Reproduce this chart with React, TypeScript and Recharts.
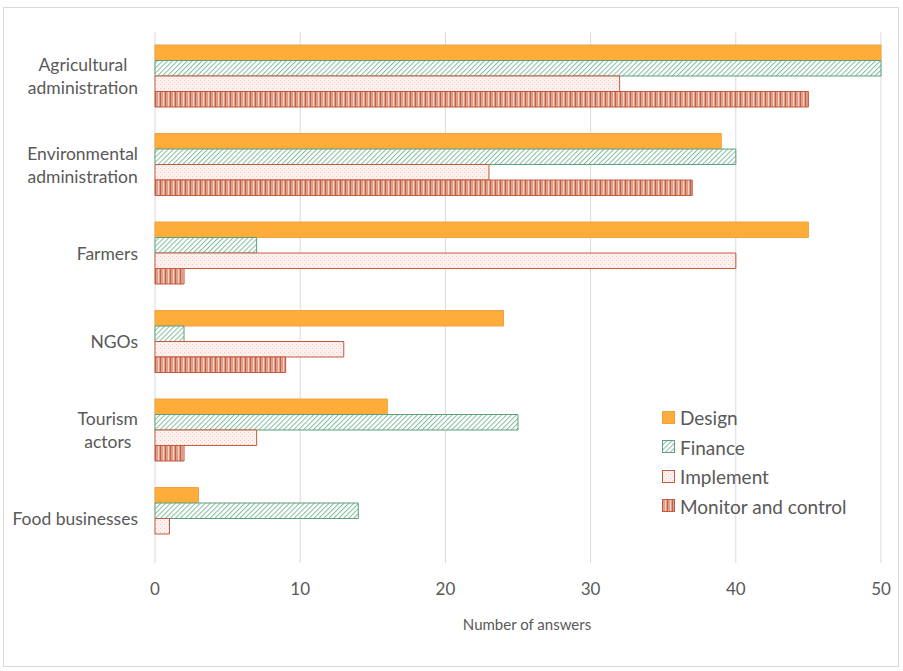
import React from 'react';
import { BarChart, Bar, XAxis, YAxis, CartesianGrid } from 'recharts';

const categories = [
  'Agricultural\nadministration',
  'Environmental\nadministration',
  'Farmers',
  'NGOs',
  'Tourism\nactors',
  'Food businesses',
];
const design = [50, 39, 45, 24, 16, 3];
const finance = [50, 40, 7, 2, 25, 14];
const implement = [32, 23, 40, 13, 7, 1];
const monitor = [45, 37, 2, 9, 2, 0];
const xTicks = [0, 10, 20, 30, 40, 50];

const seriesDefs = [
  { key: 'design', name: 'Design', fill: '#FFAD3A', stroke: '#EDA140' },
  { key: 'finance', name: 'Finance', fill: 'url(#patFinance)', stroke: '#5E9F7C' },
  { key: 'implement', name: 'Implement', fill: 'url(#patImplement)', stroke: '#C35A3E' },
  { key: 'monitor', name: 'Monitor and control', fill: 'url(#patMonitor)', stroke: '#C35A3E' },
];

const data = categories.map((c, i) => ({
  name: c,
  design: design[i],
  finance: finance[i],
  implement: implement[i],
  monitor: monitor[i],
}));

const FONT = 'Lato, "Open Sans", sans-serif';
const TEXT = '#595959';

let measureCtx: CanvasRenderingContext2D | null = null;
function measure(text: string, font: string): number {
  if (!measureCtx) {
    const c = document.createElement('canvas');
    measureCtx = c.getContext('2d');
  }
  if (!measureCtx) return text.length * 8;
  measureCtx.font = font;
  return measureCtx.measureText(text).width;
}

const YTick = (props: any) => {
  const { y, payload } = props;
  const lines: string[] = String(payload.value).split('\n');
  const fontSize = 17.5;
  const widths = lines.map((l) => measure(l, `${fontSize}px Lato`));
  const maxW = Math.max(...widths);
  const rightEdge = 138;
  const cx = rightEdge - maxW / 2;
  const lh = 23;
  const startY = y - ((lines.length - 1) * lh) / 2;
  return (
    <g>
      {lines.map((l, i) => (
        <text
          key={i}
          x={cx}
          y={startY + i * lh}
          textAnchor="middle"
          dominantBaseline="central"
          fontSize={fontSize}
          fontFamily={FONT}
          fill={TEXT}
        >
          {l}
        </text>
      ))}
    </g>
  );
};

const LegendBox = () => (
  <div
    style={{
      position: 'absolute',
      left: 662,
      top: 403,
      width: 236,
      fontFamily: FONT,
      fontSize: 19,
      color: TEXT,
    }}
  >
    {seriesDefs.map((s) => (
      <div key={s.key} style={{ display: 'flex', alignItems: 'center', height: 29.5, whiteSpace: 'nowrap' }}>
        <svg width={14} height={14} style={{ marginRight: 4 }}>
          <rect x={0.5} y={0.5} width={12} height={12} fill={s.fill} stroke={s.stroke} strokeWidth={1} />
        </svg>
        <span>{s.name}</span>
      </div>
    ))}
  </div>
);

export default function App() {
  return (
    <div style={{ position: 'absolute', left: 0, top: 0, width: 903, height: 671, background: '#fff' }}>
      <div
        style={{
          position: 'absolute',
          left: 3,
          top: 7,
          width: 896,
          height: 660,
          border: '1px solid #d9d9d9',
          boxSizing: 'border-box',
        }}
      />
      <BarChart
        width={903}
        height={671}
        data={data}
        layout="vertical"
        margin={{ top: 32, right: 22, bottom: 0, left: 0 }}
        barGap={0}
        barSize={15.5}
        style={{ position: 'absolute', left: 0, top: 0 }}
      >
        <defs>
          <pattern id="patFinance" patternUnits="userSpaceOnUse" width={3.5} height={3.5} patternTransform="rotate(45)">
            <rect width={3.5} height={3.5} fill="#ffffff" />
            <line x1={0} y1={0} x2={0} y2={3.5} stroke="#80BC9C" strokeWidth={2} />
          </pattern>
          <pattern id="patImplement" patternUnits="userSpaceOnUse" width={4} height={4}>
            <rect width={4} height={4} fill="#FCF1EE" />
            <rect x={0} y={0} width={1} height={1} fill="#EFC9BF" />
            <rect x={2} y={2} width={1} height={1} fill="#F3D6CE" />
          </pattern>
          <pattern id="patMonitor" patternUnits="userSpaceOnUse" width={5} height={5}>
            <rect width={5} height={5} fill="#DE9E89" />
            <rect x={0} y={0} width={1} height={5} fill="#C4603F" />
            <rect x={3} y={0} width={1} height={5} fill="#F4D3C8" />
          </pattern>
        </defs>
        <CartesianGrid horizontal={false} stroke="#d9d9d9" />
        <XAxis
          type="number"
          domain={[0, 50]}
          ticks={xTicks}
          axisLine={false}
          tickLine={false}
          height={108}
          tickMargin={14}
          tick={{ fontSize: 17, fill: TEXT, fontFamily: FONT }}
          label={{
            value: 'Number of answers',
            position: 'insideBottom',
            offset: 41,
            dx: 9,
            fontSize: 15,
            fill: TEXT,
            fontFamily: FONT,
          }}
        />
        <YAxis
          type="category"
          dataKey="name"
          width={155}
          axisLine={false}
          tickLine={false}
          tick={<YTick />}
          interval={0}
        />
        {seriesDefs.map((s) => (
          <Bar
            key={s.key}
            dataKey={s.key}
            name={s.name}
            fill={s.fill}
            stroke={s.stroke}
            strokeWidth={1}
            isAnimationActive={false}
          />
        ))}
      </BarChart>
      <LegendBox />
    </div>
  );
}
